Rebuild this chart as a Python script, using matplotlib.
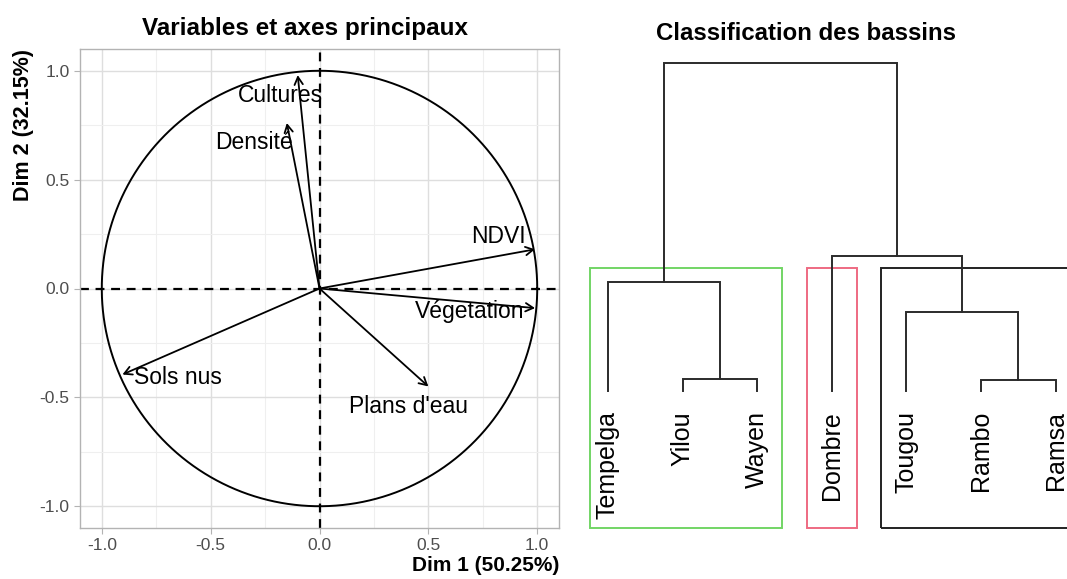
import numpy as np
import matplotlib.pyplot as plt
from matplotlib.patches import Rectangle

plt.rcParams['font.family'] = ['Liberation Sans', 'DejaVu Sans']

# --- PCA correlation circle data ---
variables = ["Cultures", "Densité", "NDVI", "Végetation", "Sols nus", "Plans d'eau"]
dim1 = [-0.10, -0.15, 0.99, 0.99, -0.905, 0.50]
dim2 = [0.98, 0.76, 0.18, -0.09, -0.395, -0.45]
# label positions (repelled like ggrepel)
lab_x = [-0.18, -0.30, 0.82, 0.69, -0.65, 0.41]
lab_y = [0.885, 0.67, 0.24, -0.105, -0.41, -0.54]
ticks = [-1.0, -0.5, 0.0, 0.5, 1.0]
tick_labels = ["-1.0", "-0.5", "0.0", "0.5", "1.0"]

# --- dendrogram data ---
basins = ["Tempelga", "Yilou", "Wayen", "Dombre", "Tougou", "Rambo", "Ramsa"]
# merges: (left, right, height); ids >= 7 refer to earlier merges
merges = [(1, 2, 0.24), (5, 6, 0.23), (0, 7, 2.18), (4, 8, 1.58), (3, 10, 2.70), (9, 11, 6.56)]
cluster_spans = [(0.76, 3.33), (3.67, 4.34), (4.66, 7.60)]
cluster_colors = ["#72D565", "#EE6A82", "#222222"]

fig = plt.figure(figsize=(10.67, 5.79), dpi=100)

# ---------------- left panel ----------------
ax = fig.add_axes([80 / 1067, 1 - 528 / 579, 479 / 1067, 479 / 579])
ax.set_xlim(-1.1, 1.1)
ax.set_ylim(-1.1, 1.1)
ax.set_xticks(ticks)
ax.set_yticks(ticks)
ax.set_xticklabels(tick_labels)
ax.set_yticklabels(tick_labels)
ax.set_xticks([-0.75, -0.25, 0.25, 0.75], minor=True)
ax.set_yticks([-0.75, -0.25, 0.25, 0.75], minor=True)
ax.grid(which='major', color='#DEDEDE', linewidth=1.0)
ax.grid(which='minor', color='#EFEFEF', linewidth=0.8)
ax.set_axisbelow(True)
for s in ax.spines.values():
    s.set_color('#B3B3B3')
    s.set_linewidth(1.0)
ax.tick_params(which='major', color='#B3B3B3', length=4, labelsize=12.5, labelcolor='#4D4D4D')
ax.tick_params(which='minor', length=0)

t = np.linspace(0, 2 * np.pi, 400)
ax.plot(np.cos(t), np.sin(t), color='black', lw=1.4)
ax.axhline(0, color='black', lw=1.6, ls=(0, (4, 3)))
ax.axvline(0, color='black', lw=1.6, ls=(0, (4, 3)))

for v, x, y, lx, ly in zip(variables, dim1, dim2, lab_x, lab_y):
    ax.annotate("", xy=(x, y), xytext=(0, 0),
                arrowprops=dict(arrowstyle='->,head_length=0.55,head_width=0.3',
                                color='black', lw=1.3, shrinkA=0, shrinkB=0))
    ax.text(lx, ly, v, ha='center', va='center', fontsize=16.5)

fig.text(305 / 1067, 1 - 28 / 579, "Variables et axes principaux",
         ha='center', va='center', fontsize=17.5, fontweight='bold')
ax.set_xlabel("Dim 1 (50.25%)", fontsize=15, fontweight='bold', loc='right', labelpad=2)
ax.set_ylabel("Dim 2 (32.15%)", fontsize=15.5, fontweight='bold', loc='top', labelpad=4)

# ---------------- right panel (dendrogram) ----------------
ax2 = fig.add_axes([580 / 1067, 0, 487 / 1067, 1])
ax2.set_xlim(0.625, 7.153)
ax2.set_ylim((391 - 579) / 50, 391 / 50)
ax2.axis('off')

pos = {i: (i + 1.0, 0.0) for i in range(len(basins))}
for k, (a, b, h) in enumerate(merges):
    xa, ha = pos[a]
    xb, hb = pos[b]
    ax2.plot([xa, xa, xb, xb], [ha, h, h, hb], color='#2B2B2B', lw=1.4, solid_joinstyle='miter')
    pos[len(basins) + k] = ((xa + xb) / 2, h)

for i, name in enumerate(basins):
    ax2.text(i + 1, -0.40, name, rotation=90, ha='center', va='top', fontsize=18)

for (x0, x1), c in zip(cluster_spans, cluster_colors):
    ax2.add_patch(Rectangle((x0, -2.74), x1 - x0, 2.46 + 2.74, fill=False,
                            edgecolor=c, lw=1.4))

fig.text(806 / 1067, 1 - 33 / 579, "Classification des bassins",
         ha='center', va='center', fontsize=17.3, fontweight='bold')

fig.savefig("out.png", dpi=100)
